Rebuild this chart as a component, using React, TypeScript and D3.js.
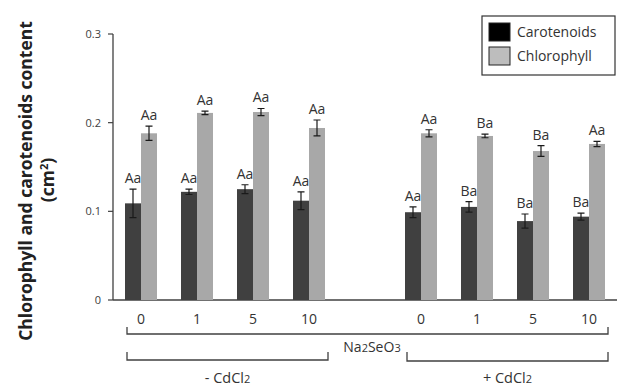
import React from "react";
import * as d3 from "d3";

const doses = ["0", "1", "5", "10"];
const treatments = ["-", "+"];
const series = ["Carotenoids", "Chlorophyll"];

const carotenoids = [0.109, 0.122, 0.125, 0.112, 0.099, 0.105, 0.089, 0.094];
const carotenoidsErr = [0.016, 0.003, 0.005, 0.010, 0.006, 0.006, 0.008, 0.004];
const carotenoidsLetters = ["Aa", "Aa", "Aa", "Aa", "Aa", "Ba", "Ba", "Ba"];

const chlorophyll = [0.188, 0.211, 0.212, 0.194, 0.188, 0.185, 0.168, 0.176];
const chlorophyllErr = [0.008, 0.002, 0.004, 0.009, 0.004, 0.002, 0.006, 0.003];
const chlorophyllLetters = ["Aa", "Aa", "Aa", "Aa", "Aa", "Ba", "Ba", "Aa"];

const yTicks = [0, 0.1, 0.2, 0.3];

const width = 617;
const height = 389;
const font = "'Open Sans', sans-serif";
const colors = { Carotenoids: "#404040", Chlorophyll: "#a8a8a8" };

export default function App() {
  // 9 slots: 4 doses without CdCl2, an empty gap, 4 doses with CdCl2
  const slots = [
    ...doses.map((d) => `-${d}`),
    "gap",
    ...doses.map((d) => `+${d}`),
  ];
  const groups = slots.filter((s) => s !== "gap");

  const x0 = d3.scaleBand().domain(slots).range([113, 617]).paddingInner(0);
  const x1 = d3
    .scaleBand()
    .domain(series)
    .range([0, x0.bandwidth()])
    .paddingInner(0)
    .paddingOuter(0.75);
  const y = d3.scaleLinear().domain([0, 0.3]).range([300, 34]);

  const values = { Carotenoids: carotenoids, Chlorophyll: chlorophyll };
  const errs = { Carotenoids: carotenoidsErr, Chlorophyll: chlorophyllErr };
  const letters = { Carotenoids: carotenoidsLetters, Chlorophyll: chlorophyllLetters };

  const center = (s: string) => (x0(s) as number) + x0.bandwidth() / 2;
  const fmt = d3.format(".1f");

  const bracket = (a: string, b: string, yy: number, h: number) => {
    const l = center(a) - 14;
    const r = center(b) + 19;
    return `M${l},${yy - h}V${yy}H${r}V${yy - h}`;
  };

  return (
    <svg width={width} height={height} style={{ position: "absolute", left: 0, top: 0, background: "#fff" }}>
      {/* y axis */}
      <line x1={113} x2={113} y1={y(0.3)} y2={y(0)} stroke="#404040" strokeWidth={1.3} />
      <line x1={113} x2={617} y1={y(0)} y2={y(0)} stroke="#404040" strokeWidth={1.3} />
      {yTicks.map((t) => (
        <g key={t}>
          <line x1={108} x2={113} y1={y(t)} y2={y(t)} stroke="#404040" strokeWidth={1.2} />
          <text x={101} y={y(t)} dy="0.35em" textAnchor="end" fontFamily={font} fontSize={11} fill="#404040">
            {t === 0 ? "0" : fmt(t)}
          </text>
        </g>
      ))}

      {/* bars */}
      {groups.map((g, i) =>
        series.map((s) => {
          const v = values[s][i];
          const e = errs[s][i];
          const bx = (x0(g) as number) + (x1(s) as number);
          const bw = x1.bandwidth();
          const cx = bx + bw / 2;
          return (
            <g key={g + s}>
              <rect x={bx} y={y(v)} width={bw} height={y(0) - y(v)} fill={colors[s]} />
              <path
                d={`M${cx - 3.5},${y(v + e)}H${cx + 3.5}M${cx},${y(v + e)}V${y(v - e)}M${cx - 3.5},${y(v - e)}H${cx + 3.5}`}
                stroke="#1a1a1a"
                strokeWidth={1.2}
                fill="none"
              />
              <text x={cx} y={y(v + e) - 6} textAnchor="middle" fontFamily={font} fontSize={14} fill="#333">
                {letters[s][i]}
              </text>
            </g>
          );
        })
      )}

      {/* x tick labels */}
      {groups.map((g, i) => (
        <text key={g} x={center(g)} y={319} dy="0.35em" textAnchor="middle" fontFamily={font} fontSize={14} fill="#333">
          {doses[i % doses.length]}
        </text>
      ))}

      {/* brackets */}
      <path d={bracket("-0", "+10", 334, 7)} stroke="#404040" strokeWidth={1.3} fill="none" />
      <path d={bracket("-0", "-10", 360, 8)} stroke="#404040" strokeWidth={1.3} fill="none" />
      <path d={bracket("+0", "+10", 361, 9)} stroke="#404040" strokeWidth={1.3} fill="none" />

      <text x={372} y={347} dy="0.35em" textAnchor="middle" fontFamily={font} fontSize={14} fill="#333">
        Na<tspan fontSize={11}>2</tspan>SeO<tspan fontSize={11}>3</tspan>
      </text>
      {treatments.map((t, k) => {
        const a = k === 0 ? "-0" : "+0";
        const b = k === 0 ? "-10" : "+10";
        const mid = (center(a) - 14 + center(b) + 19) / 2;
        return (
          <text key={t} x={mid} y={378} dy="0.35em" textAnchor="middle" fontFamily={font} fontSize={14.5} fill="#333">
            {t} CdCl<tspan fontSize={11}>2</tspan>
          </text>
        );
      })}

      {/* y title */}
      <g transform="translate(26,181) rotate(-90)">
        <text textAnchor="middle" dy="0.35em" fontFamily={font} fontSize={17.5} fontWeight="bold" fill="#222">
          Chlorophyll and carotenoids content
        </text>
      </g>
      <g transform="translate(48,180) rotate(-90)">
        <text textAnchor="middle" dy="0.35em" fontFamily={font} fontSize={17.5} fontWeight="bold" fill="#222">
          (cm<tspan fontSize={11} dy="-6">2</tspan><tspan dy="6">)</tspan>
        </text>
      </g>

      {/* legend */}
      <rect x={482} y={16} width={133} height={59} fill="#fff" stroke="#333" strokeWidth={1.2} />
      {series.map((s, k) => (
        <g key={s} transform={`translate(489,${23 + k * 24})`}>
          <rect width={21} height={18} fill={k === 0 ? "#000" : "#bdbdbd"} stroke="#222" strokeWidth={1} />
          <text x={28} y={9} dy="0.35em" fontFamily={font} fontSize={14} fill="#333">
            {s}
          </text>
        </g>
      ))}
    </svg>
  );
}
